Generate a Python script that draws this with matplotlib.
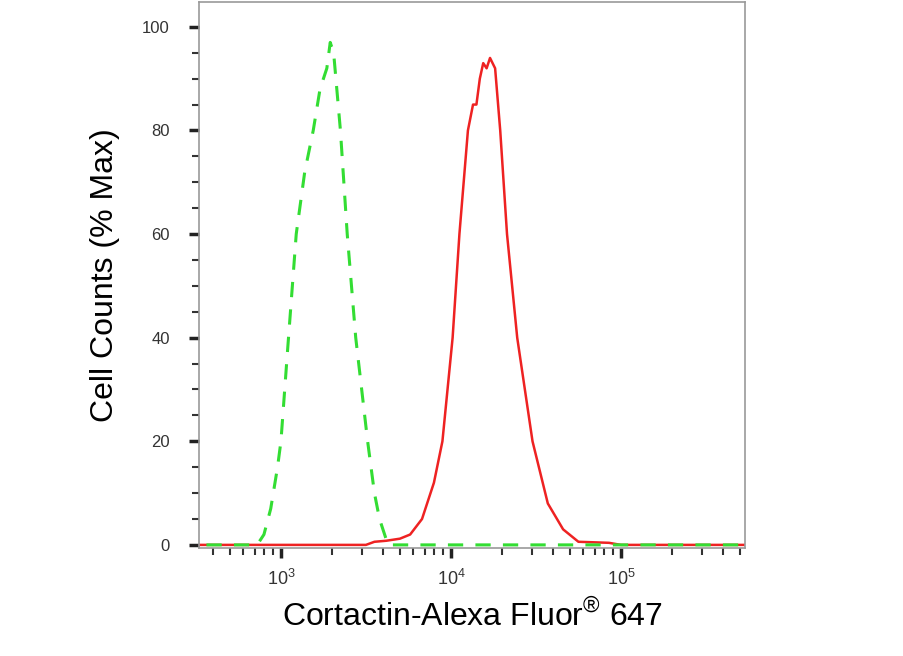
import numpy as np
import matplotlib
matplotlib.use("Agg")
from matplotlib import pyplot as plt
from matplotlib.ticker import FixedLocator, NullFormatter

plt.rcParams['font.family'] = ['Liberation Sans', 'DejaVu Sans']

# green (control) dashed histogram, x in log10 units
green_x = [2.4, 2.86, 2.9, 2.94, 2.98, 3.0, 3.04, 3.09, 3.14, 3.19, 3.23, 3.27, 3.29, 3.31,
           3.35, 3.39, 3.44, 3.51, 3.55, 3.58, 3.63, 5.8]
green_y = [0, 0, 2, 7, 15, 20, 38, 60, 72, 80, 88, 92, 97, 95,
           80, 60, 40, 20, 10, 5, 0, 0]

# red (Cortactin) solid histogram
red_x = [2.4, 3.5, 3.55, 3.62, 3.7, 3.76, 3.83, 3.9, 3.95, 4.01, 4.05, 4.1, 4.13, 4.15,
         4.17, 4.19, 4.21, 4.23, 4.26, 4.29, 4.33, 4.39, 4.48, 4.57, 4.66, 4.75, 4.93, 5.0, 5.8]
red_y = [0, 0, 0.6, 0.8, 1.2, 2, 5, 12, 20, 40, 60, 80, 85, 85,
         90, 93, 92, 94, 92, 80, 60, 40, 20, 8, 3, 0.6, 0.4, 0, 0]

fig = plt.figure(figsize=[9.04, 6.56], dpi=100)
ax = fig.add_axes([199 / 904, 1 - 548 / 656, 546 / 904, 546 / 656])

ax.plot(10 ** np.array(red_x), red_y, color='#ee2222', lw=1.8)
ax.plot(10 ** np.array(green_x), green_y, color='#33dd33', lw=2.2, ls=(0, (5, 4)))

ax.set_xscale('log')
ax.set_xlim(10 ** 2.518, 10 ** 5.73)
ax.set_ylim(-0.6, 104.8)

ax.set_yticks([0, 20, 40, 60, 80, 100])
ax.yaxis.set_minor_locator(FixedLocator(np.arange(5, 105, 5)))
ax.set_yticklabels(['0', '20', '40', '60', '80', '100'], fontsize=12, color='#333333')
minors = [m * 10 ** d for d in range(2, 6) for m in range(2, 10)]
ax.xaxis.set_minor_locator(FixedLocator(minors))
ax.xaxis.set_minor_formatter(NullFormatter())
ax.set_xticks([1e3, 1e4, 1e5])
ax.set_xticklabels(['$\\mathregular{10^3}$', '$\\mathregular{10^4}$', '$\\mathregular{10^5}$'],
                   fontsize=13, color='#333333')

ax.tick_params(which='major', length=7, width=2.5, color='#222222', pad=8)
ax.tick_params(which='minor', length=5, width=1.5, color='#333333')
ax.tick_params(axis='y', which='major', pad=14)
for s in ax.spines.values():
    s.set_color('#999999')
    s.set_linewidth(1.2)

ax.set_ylabel('Cell Counts (% Max)', fontsize=23, labelpad=16)
ax.set_xlabel('Cortactin-Alexa Fluor$^{\\mathregular{®}}$ 647', fontsize=23, labelpad=8)

fig.savefig('out.png', dpi=100)
